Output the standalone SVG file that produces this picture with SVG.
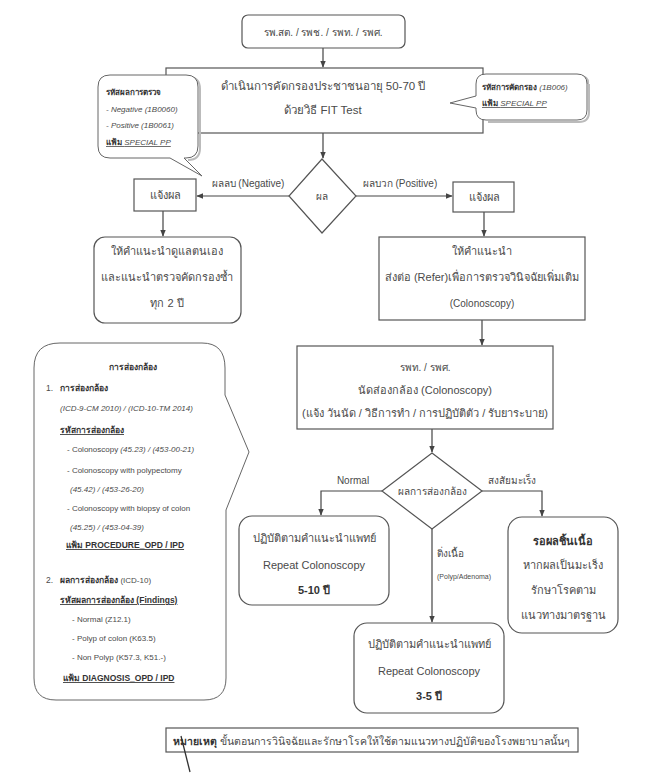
<svg xmlns="http://www.w3.org/2000/svg" width="664" height="784" viewBox="0 0 664 784">
<defs>
<marker id="ah" viewBox="0 0 10 10" refX="9" refY="5" markerWidth="7" markerHeight="7" orient="auto" markerUnits="userSpaceOnUse">
<path d="M0,1 L10,5 L0,9 Z" fill="#444"/>
</marker>
</defs>
<style>
text{font-family:"Liberation Sans","Noto Sans",sans-serif;fill:#4a4a4a;}
.m{font-size:11px;text-anchor:middle;}
.l{font-size:11.5px;text-anchor:middle;}
.s{font-size:8px;}
.c{font-size:8.5px;}
.b{font-weight:bold;fill:#333;}
.i{font-style:italic;}
.u{text-decoration:underline;}
.box{fill:#fff;stroke:#555;stroke-width:1.2;}
.call{fill:#fff;stroke:#666;stroke-width:1;}
.sh{fill:none;stroke:#bbb;stroke-width:2;}
.con{fill:none;stroke:#444;stroke-width:1.2;}
</style>
<rect width="664" height="784" fill="#fff"/>

<g id="connectors">
<line class="con" x1="323" y1="48" x2="323" y2="67" marker-end="url(#ah)"/>
<line class="con" x1="323" y1="133" x2="323" y2="158" marker-end="url(#ah)"/>
<line class="con" x1="289" y1="196" x2="197" y2="196" marker-end="url(#ah)"/>
<line class="con" x1="356" y1="196" x2="452" y2="196" marker-end="url(#ah)"/>
<line class="con" x1="163" y1="211" x2="163" y2="236" marker-end="url(#ah)"/>
<line class="con" x1="484" y1="212" x2="484" y2="236" marker-end="url(#ah)"/>
<line class="con" x1="482" y1="320" x2="482" y2="345" marker-end="url(#ah)"/>
<line class="con" x1="432" y1="429" x2="432" y2="452" marker-end="url(#ah)"/>
<polyline class="con" points="382,491 321,491 321,515" marker-end="url(#ah)"/>
<polyline class="con" points="482,491 542,491 542,516" marker-end="url(#ah)"/>
<line class="con" x1="432" y1="529" x2="432" y2="622" marker-end="url(#ah)"/>
<text class="m" x="248" y="187" style="font-size:10px">ผลลบ (Negative)</text>
<text class="m" x="400" y="187" style="font-size:10px">ผลบวก (Positive)</text>
<text class="m" x="353" y="484" style="font-size:10px">Normal</text>
<text class="m" x="512" y="484" style="font-size:10px">สงสัยมะเร็ง</text>
<text x="437" y="557" style="font-size:10px">ติ่งเนื้อ</text>
<text x="437" y="579" style="font-size:7px">(Polyp/Adenoma)</text>
</g>

<g id="n-start">
<rect class="box" x="242" y="15" width="163" height="33" rx="6"/>
<text class="m" x="323" y="36" style="font-size:10px">รพ.สต. / รพช. / รพท. / รพศ.</text>
</g>

<g id="n-fit">
<rect class="box" x="166" y="68" width="317" height="65"/>
<text class="l" x="323" y="90">ดำเนินการคัดกรองประชาชนอายุ 50-70 ปี</text>
<text class="l" x="323" y="114">ด้วยวิธี FIT Test</text>
</g>

<g id="n-callout-left">
<path class="sh" d="M112,77 H188 Q200,77 200,89 V148 Q200,160 188,160"/>
<path class="call" d="M110,75 H186 Q198,75 198,87 V146 Q198,158 186,158 H184 L202,176 L170,158 H110 Q98,158 98,146 V87 Q98,75 110,75 Z"/>
<text class="s b" x="106" y="95">รหัสผลการตรวจ</text>
<text class="s i" x="106" y="112">- Negative (1B0060)</text>
<text class="s i" x="106" y="128">- Positive  (1B0061)</text>
<text class="s u" x="106" y="145"><tspan class="b">แฟ้ม</tspan> <tspan class="i">SPECIAL PP</tspan></text>
</g>

<g id="n-callout-right">
<path class="sh" d="M588,84 Q589,76 579,76 M589,84 V112 Q589,122 579,122 H488"/>
<path class="call" d="M486,74 H577 Q587,74 587,84 V110 Q587,120 577,120 H486 Q476,120 476,110 V108 L450,103 L476,96 V84 Q476,74 486,74 Z"/>
<text class="s" x="482" y="90"><tspan class="b">รหัสการคัดกรอง</tspan> <tspan class="i">(1B006)</tspan></text>
<text class="s u" x="482" y="106"><tspan class="b">แฟ้ม</tspan> <tspan class="i">SPECIAL PP</tspan></text>
</g>

<g id="n-result">
<polygon class="box" points="322,159 356,196 322,233 289,196"/>
<text class="m" x="322" y="200" style="font-size:10px">ผล</text>
</g>

<g id="n-notify-neg">
<rect class="box" x="134" y="179" width="62" height="32"/>
<text class="m" x="165" y="199">แจ้งผล</text>
</g>

<g id="n-notify-pos">
<rect class="box" x="453" y="182" width="61" height="30"/>
<text class="m" x="484" y="201">แจ้งผล</text>
</g>

<g id="n-selfcare">
<rect class="box" x="94" y="237" width="147" height="86" rx="11"/>
<text class="m" x="167" y="255">ให้คำแนะนำดูแลตนเอง</text>
<text class="m" x="167" y="281">และแนะนำตรวจคัดกรองซ้ำ</text>
<text class="m" x="167" y="307">ทุก 2 ปี</text>
</g>

<g id="n-refer">
<rect class="box" x="379" y="237" width="206" height="83"/>
<text class="m" x="482" y="255">ให้คำแนะนำ</text>
<text class="m" x="482" y="281">ส่งต่อ (Refer)เพื่อการตรวจวินิจฉัยเพิ่มเติม</text>
<text class="m" x="482" y="307" style="font-size:10px">(Colonoscopy)</text>
</g>

<g id="n-appoint">
<rect class="box" x="297" y="346" width="256" height="83"/>
<text class="m" x="425" y="371" style="font-size:10px">รพท. / รพศ.</text>
<text class="m" x="425" y="394">นัดส่องกล้อง (Colonoscopy)</text>
<text class="m" x="425" y="417">(แจ้ง วันนัด / วิธีการทำ / การปฏิบัติตัว / รับยาระบาย)</text>
</g>

<g id="n-scope-result">
<polygon class="box" points="432,453 482,491 432,529 382,491"/>
<text class="m" x="432" y="495" style="font-size:10px">ผลการส่องกล้อง</text>
</g>

<g id="n-normal">
<rect class="box" x="239" y="516" width="150" height="89" rx="13"/>
<text class="m" x="314" y="542">ปฏิบัติตามคำแนะนำแพทย์</text>
<text class="m" x="314" y="569">Repeat Colonoscopy</text>
<text class="m b" x="314" y="594">5-10 ปี</text>
</g>

<g id="n-polyp">
<rect class="box" x="354" y="623" width="150" height="90" rx="13"/>
<text class="m" x="429" y="648">ปฏิบัติตามคำแนะนำแพทย์</text>
<text class="m" x="429" y="675">Repeat Colonoscopy</text>
<text class="m b" x="429" y="700">3-5 ปี</text>
</g>

<g id="n-cancer">
<rect class="box" x="508" y="517" width="110" height="116" rx="14"/>
<text class="m b" x="563" y="545">รอผลชิ้นเนื้อ</text>
<text class="m" x="563" y="569">หากผลเป็นมะเร็ง</text>
<text class="m" x="563" y="594">รักษาโรคตาม</text>
<text class="m" x="563" y="619">แนวทางมาตรฐาน</text>
</g>

<g id="n-callout-scope">
<path class="call" d="M60,343 H202 Q225,343 225,368 V395 L249,452 L226,510 V678 Q226,700 204,700 H56 Q34,700 34,678 V368 Q34,343 60,343 Z"/>
<text class="c b" x="133" y="370" text-anchor="middle">การส่องกล้อง</text>
<text class="c" x="46" y="391">1.</text>
<text class="c b" x="60" y="391">การส่องกล้อง</text>
<text class="s i" x="60" y="411">(ICD-9-CM 2010) / (ICD-10-TM 2014)</text>
<text class="c b u" x="60" y="433">รหัสการส่องกล้อง</text>
<text class="s" x="67" y="452">- Colonoscopy <tspan class="i">(45.23) / (453-00-21)</tspan></text>
<text class="s" x="67" y="473">- Colonoscopy with polypectomy</text>
<text class="s i" x="70" y="492">(45.42) / (453-26-20)</text>
<text class="s" x="67" y="511">- Colonoscopy with biopsy of colon</text>
<text class="s i" x="70" y="530">(45.25) / (453-04-39)</text>
<text class="c b u" x="66" y="548">แฟ้ม PROCEDURE_OPD / IPD</text>
<text class="c" x="46" y="583">2.</text>
<text class="c" x="60" y="583"><tspan class="b">ผลการส่องกล้อง</tspan> <tspan style="font-size:8px">(ICD-10)</tspan></text>
<text class="c b u" x="60" y="603">รหัสผลการส่องกล้อง (Findings)</text>
<text class="s" x="72" y="622">- Normal (Z12.1)</text>
<text class="s" x="72" y="641">- Polyp of colon (K63.5)</text>
<text class="s" x="72" y="660">- Non Polyp (K57.3, K51.-)</text>
<text class="c b u" x="63" y="681">แฟ้ม DIAGNOSIS_OPD / IPD</text>
</g>

<g id="n-note">
<rect class="box" x="166" y="728" width="412" height="24"/>
<text x="173" y="745" style="font-size:10.5px"><tspan class="b">หมายเหตุ</tspan> ขั้นตอนการวินิจฉัยและรักษาโรคให้ใช้ตามแนวทางปฏิบัติของโรงพยาบาลนั้นๆ</text>
<line x1="181" y1="736" x2="190" y2="772" stroke="#333" stroke-width="1.3"/>
</g>
</svg>
